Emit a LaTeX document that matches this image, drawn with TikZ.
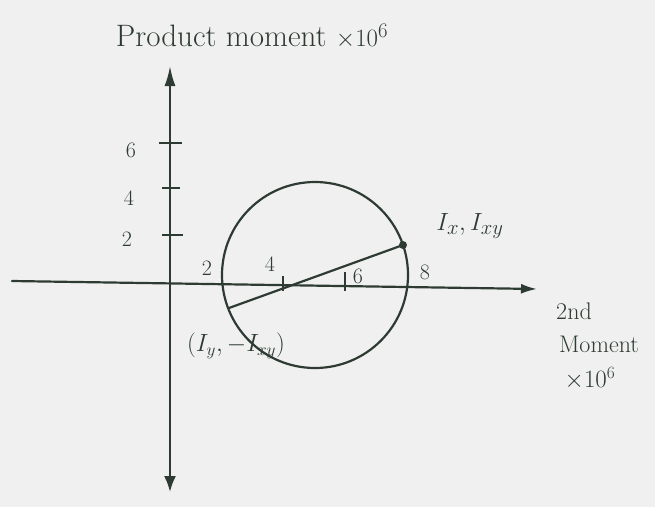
\documentclass[tikz,border=0pt]{standalone}
\usepackage{amsmath}
\usetikzlibrary{arrows.meta,calc,positioning}
\definecolor{pen}{rgb}{0.18,0.23,0.2}
\definecolor{paper}{rgb}{0.94,0.94,0.94}

\begin{document}
\begin{tikzpicture}[x=1pt,y=-1pt,
    pen line/.style={draw=pen,line width=2.2pt,line cap=round},
    tick/.style={draw=pen,line width=1.8pt},
    lbl/.style={text=pen,font=\fontsize{22}{26}\selectfont}]
          % paper
          \fill[paper] (0,0) rectangle (655,507);
          \useasboundingbox (0,0) rectangle (655,507);
          % axes
          \coordinate (O) at (170,282);
          \coordinate (xl) at (12,281);
          \coordinate (xr) at (537,289);
          \coordinate (yt) at (170,66);
          \coordinate (yb) at (170,492);
          \draw[pen line,-{Latex[length=16pt,width=10pt]}] (xl) -- (xr);
          \draw[pen line,{Latex[length=16pt,width=12pt]}-{Latex[length=20pt,width=11pt]}] (yb) -- (yt);
          % ticks on product moment axis
          \draw[tick] (159,143) -- (182,143);
          \draw[tick] (162,188) -- (180,188);
          \draw[tick] (162,235) -- (183,235);
          \node[lbl] (t6) at (131,150) {6};
          \node[lbl] (t4) at (129,198) {4};
          \node[lbl] (t2) at (127,239) {2};
          % ticks on 2nd moment axis
          \draw[tick] (283,276) -- (283,291);
          \draw[tick] (345,272) -- (345,291);
          \node[lbl] (s2) at (207,268) {2};
          \node[lbl] (s4) at (270,264) {4};
          \node[lbl] (s6) at (358,276) {6};
          \node[lbl] (s8) at (425,272) {8};
          % circle
          \coordinate (C) at (315,275);
          \draw[pen line] (C) circle (93);
          % diameter
          \coordinate (A) at (403,245);
          \coordinate (B) at (229,308);
          \draw[pen line] (A) -- (B);
          \fill[pen] (A) circle (4);
          \node[lbl,font=\fontsize{30}{34}\selectfont] (Alab) at (470,226) {$I_x, I_{xy}$};
          \node[lbl,font=\fontsize{27}{30}\selectfont] (Blab) at (236,346) {$(I_y, -I_{xy})$};
          % axis titles
          \node[lbl,font=\fontsize{31}{36}\selectfont] (ytitle) at (252,36) {Product moment $\times 10^6$};
          \node[lbl,font=\fontsize{24}{28}\selectfont] (xt1) at (574,311) {2nd};
          \node[lbl,font=\fontsize{24}{28}\selectfont] (xt2) at (599,344) {Moment};
          \node[lbl,font=\fontsize{24}{28}\selectfont] (xt3) at (590,378) {$\times 10^6$};
        \end{tikzpicture}
\end{document}
